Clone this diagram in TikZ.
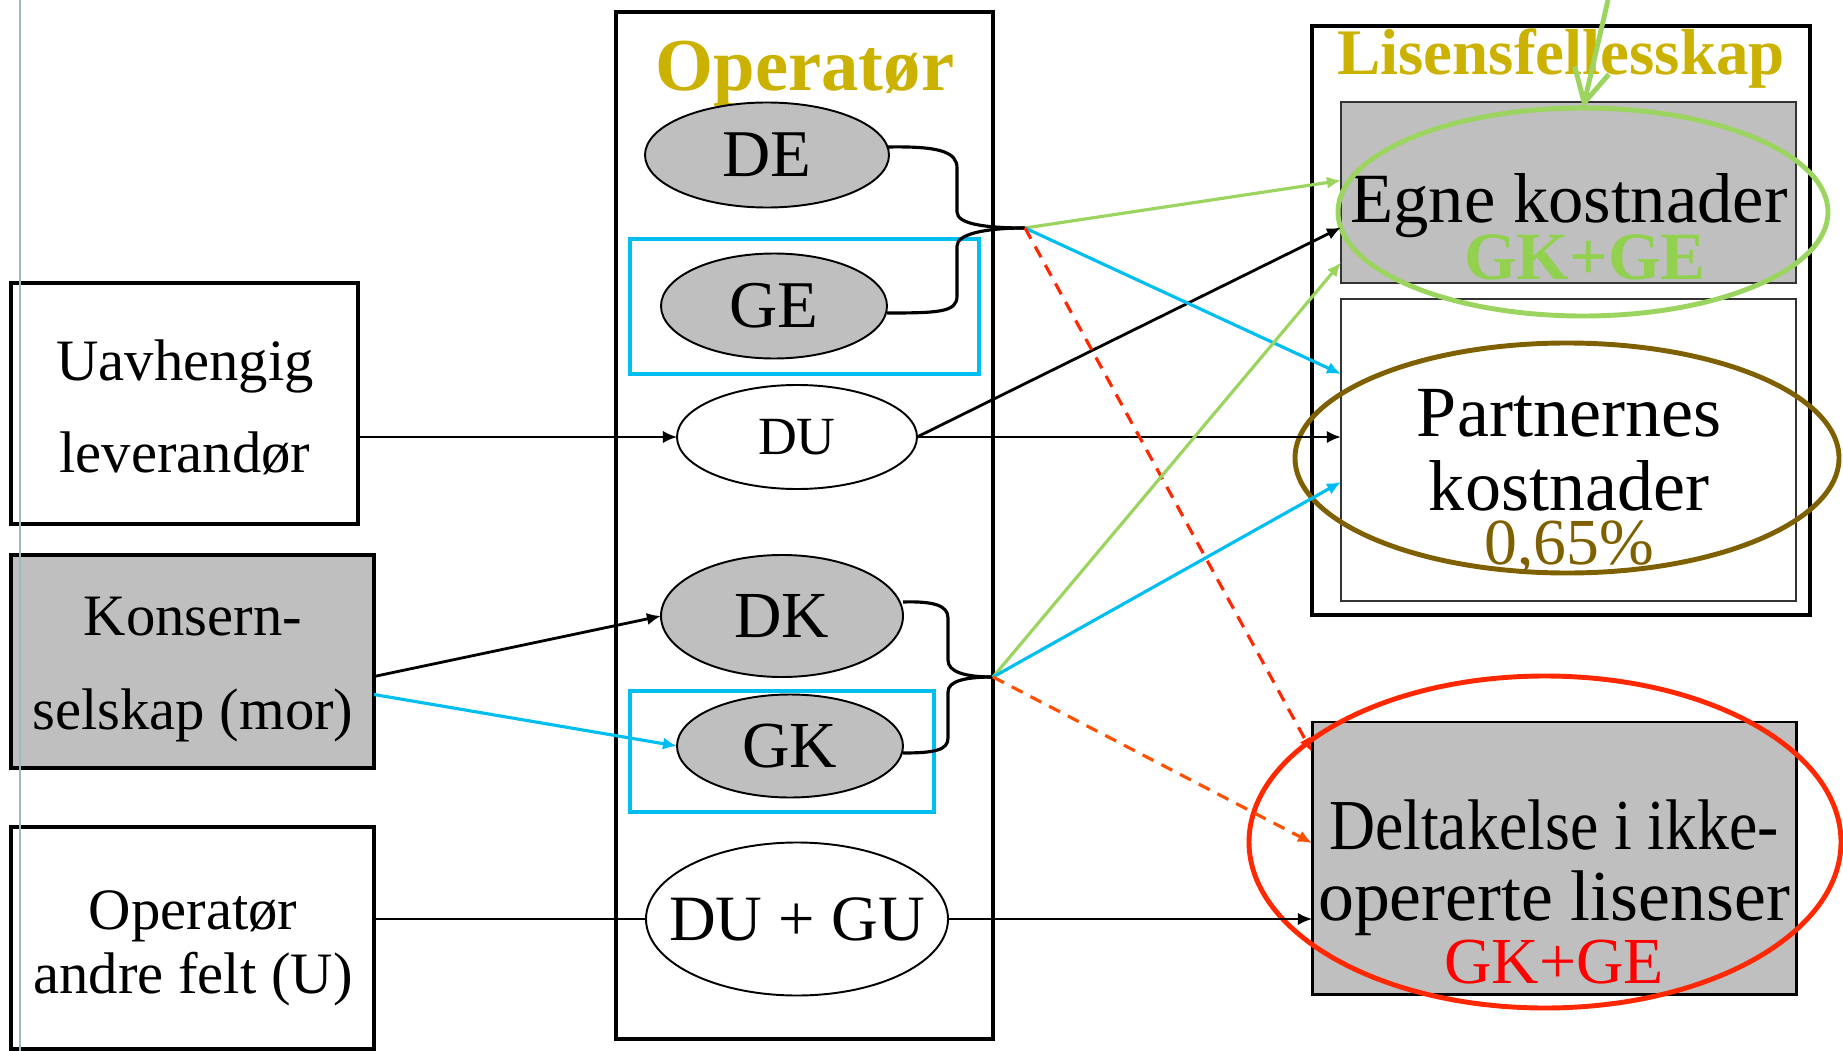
\documentclass[tikz,border=0pt]{standalone}
\usepackage{graphicx}
\usepackage{fontspec}
\setmainfont{Liberation Serif}
\usetikzlibrary{arrows.meta,shapes.geometric,fit,calc}

\definecolor{greyfill}{RGB}{191,191,191}
\definecolor{titlegold}{RGB}{204,178,0}
\definecolor{skyline}{RGB}{0,191,240}
\definecolor{leafline}{RGB}{155,212,95}
\definecolor{leaftext}{RGB}{146,208,80}
\definecolor{umber}{RGB}{127,96,0}
\definecolor{alarm}{RGB}{255,40,0}
\definecolor{alarmtwo}{RGB}{255,80,0}
\definecolor{alarmtext}{RGB}{255,0,0}
\definecolor{rulegrey}{RGB}{160,185,192}

\newcommand\FS[1]{\fontsize{#1}{#1}\selectfont}
\def\PX{0.02cm}

\begin{document}
\begin{tikzpicture}[x=0.02cm,y=-0.02cm,
  frame/.style={draw=black,line width=2.3pt,inner sep=0pt,outer sep=0pt},
  thinframe/.style={draw=black!80,line width=0.8pt,inner sep=0pt,outer sep=0pt},
  cyanframe/.style={draw=skyline,line width=2.8pt,inner sep=0pt,outer sep=0pt},
  ell/.style 2 args={ellipse,draw=black,line width=1.1pt,inner sep=0pt,outer sep=0pt,
    minimum width=#1*\PX,minimum height=#2*\PX},
  ring/.style n args={3}{ellipse,draw=#1,line width=2.8pt,inner sep=0pt,outer sep=0pt,
    minimum width=#2*\PX,minimum height=#3*\PX},
  lbl/.style={inner sep=0pt,outer sep=0pt,anchor=base},
  tip/.style={-{Latex[length=8pt,width=7pt]}},
  conn/.style={draw=black,line width=1.6pt},
  thinconn/.style={draw=black,line width=1.2pt},
  cyanconn/.style={draw=skyline,line width=1.8pt},
  greenconn/.style={draw=leafline,line width=1.8pt},
  redconn/.style={line width=1.8pt,dash pattern=on 7pt off 5pt},
  brace/.style={draw=black,line width=1.8pt},
]
\useasboundingbox (0,0) rectangle (1843,1051);
\fill[white] (0,0) rectangle (1843,1051);

% ---- suppliers on the left
\node[frame,fill=white,fit={(11,283) (358,524)}] (uav) {};
\node[frame,fill=greyfill,fit={(11,555) (374,768)}] (kon) {};
\node[frame,fill=white,fit={(11,827) (374,1049)}] (oaf) {};

\node[lbl] (uavA) at (185,380) {\FS{33.4}Uavhengig};
\node[lbl] (uavB) at (185,472) {\FS{33.4}leverandør};
\node[lbl] (konA) at (193,635) {\FS{33.4}Konsern-};
\node[lbl] (konB) at (193,729) {\FS{33.4}selskap (mor)};
\node[lbl] (oafA) at (193,929) {\FS{33.4}Operatør};
\node[lbl] (oafB) at (193,993) {\FS{33.4}andre felt (U)};

% ---- operator column
\node[frame,fill=white,fit={(616,12) (993,1039)}] (opbox) {};
\node[lbl] (optitle) at (805,91) {\FS{42.5}\bfseries\color{titlegold}Operatør};

\node[cyanframe,fit={(630,239) (979,374)}] (gebox) {};
\node[cyanframe,fit={(630,691) (934,812)}] (gkbox) {};

\node[ell={244}{105},fill=greyfill] (de) at (767,155) {};
\node[ell={226}{105},fill=greyfill] (ge) at (774,306) {};
\node[ell={240}{104},fill=white] (du) at (797,437) {};
\node[ell={242}{122},fill=greyfill] (dk) at (782,616) {};
\node[ell={226}{103},fill=greyfill] (gk) at (790,746) {};
\node[ell={302}{153},fill=white] (dugu) at (797,919) {};

\node (deT) at (de) {\FS{38}DE};
\node (geT) at (ge) {\FS{38}GE};
\node (duT) at (du) {\FS{30.6}DU};
\node (dkT) at (dk) {\FS{37.4}DK};
\node (gkT) at (gk) {\FS{37.4}GK};
\node (duguT) at (dugu) {\FS{36.8}DU + GU};

\coordinate (j1) at (1025,228);
\coordinate (j2) at (993,677);

% braces joining the pairs of cost types
\draw[brace] ($(de.east)+(-2,-8)$) .. controls +(53,-1) and +(0,-16) .. (957,168)
  -- (957,212) .. controls +(0,12) and +(-40,0) .. (j1);
\draw[brace] ($(ge.east)+(0,7)$) .. controls +(53,0) and +(0,16) .. (957,296)
  -- (957,246) .. controls +(0,-12) and +(-40,0) .. (j1);
\draw[brace] ($(dk.east)+(0,-14)$) .. controls +(32,-1) and +(0,-12) .. (948,618)
  -- (948,660) .. controls +(0,12) and +(-28,0) .. (j2);
\draw[brace] ($(gk.east)+(0,7)$) .. controls +(32,0) and +(0,12) .. (948,738)
  -- (948,692) .. controls +(0,-11) and +(-28,0) .. (j2);

% ---- license group on the right
\node[frame,fill=white,fit={(1312,26) (1810,615)}] (lis) {};
\node[lbl] (listitle) at (1561,75) {\FS{37}\bfseries\color{titlegold}Lisensfellesskap};
\node[thinframe,fill=greyfill,fit={(1341,102) (1796,283)}] (egne) {};
\node[thinframe,fill=white,fit={(1341,299) (1796,601)}] (part) {};
\node[draw=black,line width=1.7pt,inner sep=0pt,outer sep=0pt,fill=greyfill,fit={(1312,722) (1796,994)}] (delt) {};

\node[lbl] (egneA) at (1569,222) {\FS{40.2}Egne kostnader};
\node[lbl] (egneB) at (1585,279) {\FS{38.5}\bfseries\color{leaftext}GK+GE};
\node[lbl] (partA) at (1569,436) {\FS{41}Partnernes};
\node[lbl] (partB) at (1569,510) {\FS{41}kostnader};
\node[lbl] (partC) at (1569,564) {\FS{37.4}\color{umber}0,65\%};
\node[lbl] (deltA) at (1554,849) {\FS{40.8}\scalebox{0.89}[1]{Deltakelse i ikke-}};
\node[lbl] (deltB) at (1554,920) {\FS{40.8}opererte lisenser};
\node[lbl] (deltC) at (1554,983) {\FS{37.4}\color{alarmtext}GK+GE};

\node[ring={leafline}{490}{208}] (gring) at (1583,212) {};
\node[ring={umber}{544}{230}] (bring) at (1567,458) {};
\node[ring={alarm}{592}{332}] (rring) at (1545,842) {};

% ---- flows
\draw[thinconn,tip] (uav.east |- du.west) -- (du.west);
\draw[conn,tip] ($(kon.east)+(0,15)$) -- (dk.west);
\draw[cyanconn,tip] ($(kon.east)+(0,33)$) -- (gk.west);
\draw[thinconn] (oaf.east |- dugu.west) -- (dugu.west);
\draw[thinconn,tip] (dugu.east) -- (delt.west |- dugu.east);

\draw[conn,tip] (du.east) -- ($(egne.west)+(0,35)$);
\draw[conn,tip] (du.east) -- (part.west |- du.east);

\draw[greenconn,tip] (j1) -- ($(egne.west)+(0,-12)$);
\draw[cyanconn,tip] (j1) -- ($(part.west)+(0,-76)$);
\draw[redconn,draw=alarm,-{Latex[length=8pt,width=7pt,fill=alarm]}] (j1) -- ($(delt.west)+(0,-106)$);

\draw[greenconn,tip] (j2) -- ($(egne.west)+(0,70)$);
\draw[cyanconn,tip] (j2) -- ($(part.west)+(0,32)$);
\draw[redconn,draw=alarmtwo,-{Latex[length=8pt,width=7pt,fill=alarmtwo]}] (j2) -- ($(delt.west)+(0,-15)$);

\coordinate (incoming) at (1608,0);
\draw[draw=leafline,line width=2.8pt,-{Straight Barb[length=19pt,width=20pt]}] (incoming) -- (gring.north);

% thin rule along the left margin
\draw[rulegrey,line width=1.2pt] (20,0) -- (20,1051);
\end{tikzpicture}
\end{document}
